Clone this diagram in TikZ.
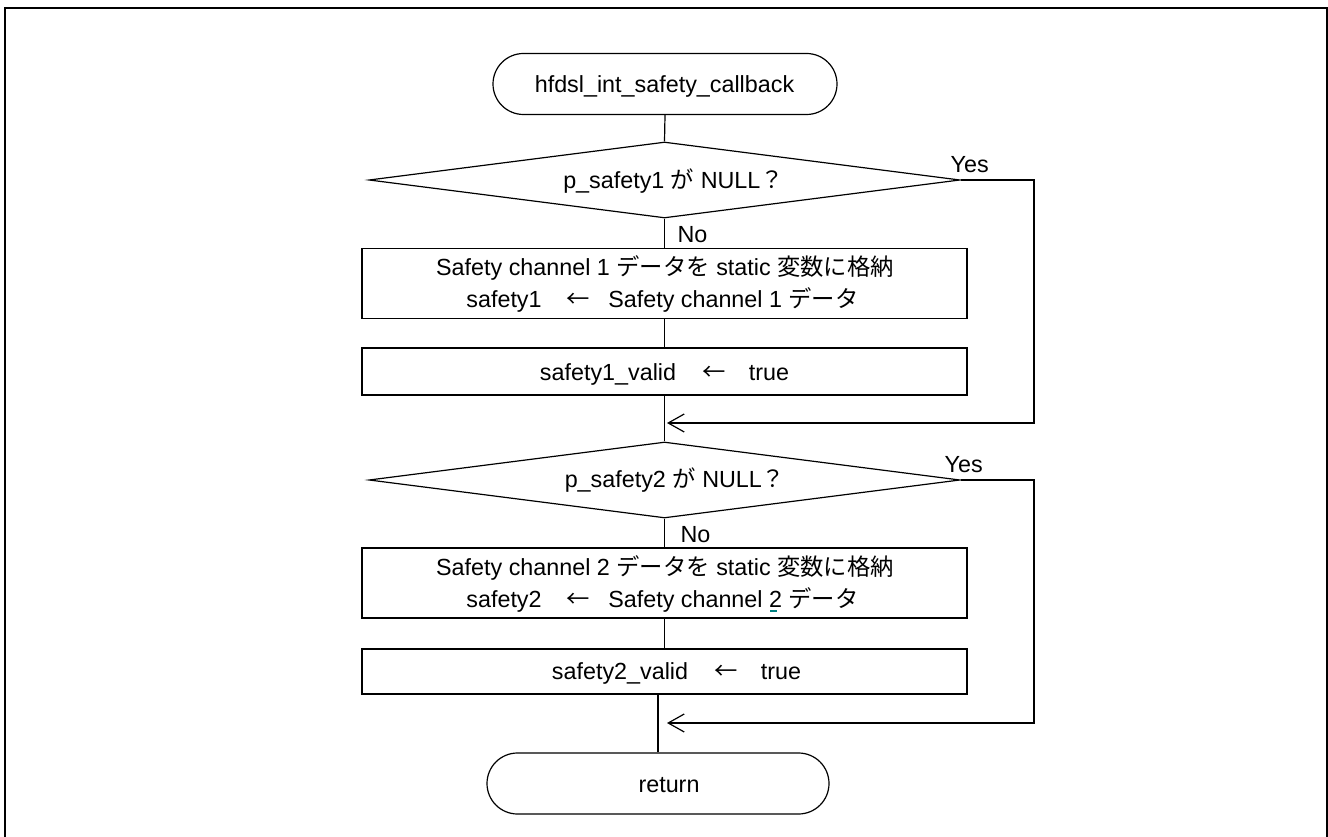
\documentclass[tikz,border=0pt]{standalone}
\usepackage{fontspec}
\setmainfont{Liberation Sans}
\newfontfamily\jp{Noto Sans CJK JP}
\usetikzlibrary{shapes.misc,shapes.geometric,arrows.meta,calc}
\definecolor{spellmark}{RGB}{0,128,128}
\newcommand{\larr}{\makebox[20pt]{\jp ←}}
\begin{document}
\begin{tikzpicture}[x=0.75pt,y=-0.75pt,
  line width=0.9pt,
  every node/.style={font=\fontsize{17.5pt}{24pt}\selectfont, inner sep=0pt},
  term/.style={draw, rounded rectangle, minimum width=258pt, minimum height=45.75pt},
  dec/.style={draw, diamond, minimum width=443.25pt, minimum height=57pt, aspect=7.8},
  proc/.style={draw, rectangle, minimum width=453.75pt},
  txt/.style={anchor=base},
  lbl/.style={anchor=base west},
  back/.style={-{Straight Barb[length=12pt,width=13.5pt]}},
]
\useasboundingbox (0,0) rectangle (1328,837);
% frame
\draw[line width=1.5pt] (5,850) -- (5,8) -- (1326.5,8) -- (1326.5,850);

% nodes
\node[term] (start) at (665,84) {};
\node[txt] (tstart) at (664.5,92.5) {hfdsl\_int\_safety\_callback};

\node[dec] (d1) at (664.5,180) {};
\node[txt] (td1) at (673.5,188.5) {p\_safety1 {\jp が} NULL{\jp ？}};

\node[proc, minimum height=52.5pt] (b1) at (664.5,283.5) {};
\node[txt] (b1a) at (665,276) {Safety channel 1 {\jp データを} static {\jp 変数に格納}};
\node[txt] (b1b) at (662.5,308) {safety1\hspace{17.25pt}\larr\hspace{12.75pt}Safety channel 1 {\jp データ}};

\node[proc, minimum height=35.25pt] (b2) at (664.5,371.5) {};
\node[txt] (tb2) at (664.5,381) {safety1\_valid\hspace{18.75pt}\larr\hspace{15.75pt}true};

\node[dec] (d2) at (664.5,480) {};
\node[txt] (td2) at (675,488) {p\_safety2 {\jp が} NULL{\jp ？}};

\node[proc, minimum height=52.5pt] (b3) at (664.5,583) {};
\node[txt] (b3a) at (665,575.5) {Safety channel 2 {\jp データを} static {\jp 変数に格納}};
\node[txt] (b3b) at (662.5,607.5) {safety2\hspace{17.25pt}\larr\hspace{12.75pt}Safety channel 2 {\jp データ}};

\node[proc, minimum height=33.75pt] (b4) at (664.5,671.5) {};
\node[txt] (tb4) at (676.5,679) {safety2\_valid\hspace{18.75pt}\larr\hspace{15.75pt}true};

\node[term, minimum width=256.5pt] (ret) at (658,783.5) {};
\node[txt] (tret) at (669,792) {return};

% labels
\node[lbl] (y1) at (950,173) {Yes};
\node[lbl] (y2) at (944,473) {Yes};
\node[lbl] (n1) at (677,243) {No};
\node[lbl] (n2) at (680,542) {No};

% coordinates
\coordinate (r1) at (1034,423);
\coordinate (j1) at (667,423);
\coordinate (r2) at (1034,723);
\coordinate (j2) at (667,723);

% connectors
\draw (start.south) -- (d1.north);
\draw (d1.south) -- (b1.north);
\draw (b1.south) -- (b2.north);
\draw (b2.south) -- (d2.north);
\draw (d2.south) -- (b3.north);
\draw (b3.south) -- (b4.north);
\draw (ret.north) -- (ret.north |- b4.south);
\draw[back] (d1.east) -| (r1) -- (j1);
\draw[back] (d2.east) -| (r2) -- (j2);

% spell-check mark
\draw[spellmark, line width=1.5pt] (770,611) -- (777,611);
\end{tikzpicture}
\end{document}
